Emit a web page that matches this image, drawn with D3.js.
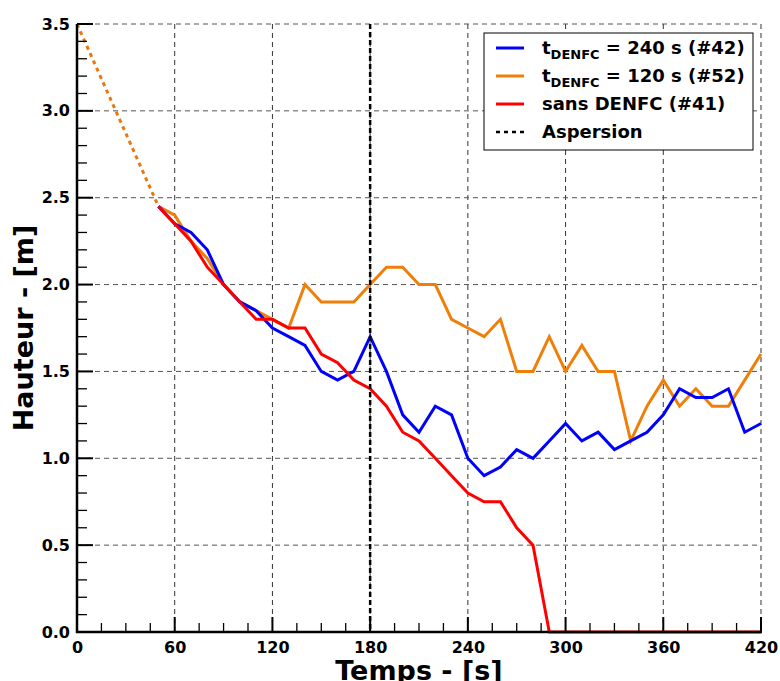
<!DOCTYPE html>
<html><head><meta charset="utf-8">
<script src="https://cdn.jsdelivr.net/npm/d3@7"></script>
<style>body{margin:0;background:#fff}svg{display:block;font-family:"DejaVu Sans",sans-serif}</style>
</head><body><svg id="c" width="780" height="681"></svg>
<script>
const times = [50,60,70,80,90,100,110,120,130,140,150,160,170,180,190,200,210,220,230,240,250,260,270,280,290,300,310,320,330,340,350,360,370,380,390,400,410,420];
const blue = [2.45,2.35,2.3,2.2,2.0,1.9,1.85,1.75,1.7,1.65,1.5,1.45,1.5,1.7,1.5,1.25,1.15,1.3,1.25,1.0,0.9,0.95,1.05,1.0,1.1,1.2,1.1,1.15,1.05,1.1,1.15,1.25,1.4,1.35,1.35,1.4,1.15,1.2];
const orange = [2.45,2.4,2.25,2.15,2.0,1.9,1.85,1.8,1.75,2.0,1.9,1.9,1.9,2.0,2.1,2.1,2.0,2.0,1.8,1.75,1.7,1.8,1.5,1.5,1.7,1.5,1.65,1.5,1.5,1.1,1.3,1.45,1.3,1.4,1.3,1.3,1.45,1.6];
const red = [2.45,2.35,2.25,2.1,2.0,1.9,1.8,1.8,1.75,1.75,1.6,1.55,1.45,1.4,1.3,1.15,1.1,1.0,0.9,0.8,0.75,0.75,0.6,0.5,0.0,0,0,0,0,0,0,0,0,0,0,0,0,0];
const initTimes = [0,50];
const initVals = [3.5,2.45];
const asperTime = 180;
const xTicks = [0,60,120,180,240,300,360,420];
const yTicks = [0,0.5,1.0,1.5,2.0,2.5,3.0,3.5];
const legendLabels = [
  {sub:true, pre:"t", subt:"DENFC", post:" = 240 s (#42)", color:"#0000ff", dash:null},
  {sub:true, pre:"t", subt:"DENFC", post:" = 120 s (#52)", color:"#f07f0a", dash:null},
  {sub:false, text:"sans DENFC (#41)", color:"#ff0000", dash:null},
  {sub:false, text:"Aspersion", color:"#000", dash:"4,4"}
];

const svg = d3.select("#c");
const L=77, R=761, T=24, B=632;
const x = d3.scaleLinear().domain([0,420]).range([L,R]);
const y = d3.scaleLinear().domain([0,3.5]).range([B,T]);

// grid
const g = svg.append("g");
g.selectAll(".vg").data(xTicks.filter(d=>d>0)).enter().append("line")
  .attr("x1",d=>x(d)).attr("x2",d=>x(d)).attr("y1",T).attr("y2",B)
  .attr("stroke","#333").attr("stroke-width",1).attr("stroke-dasharray","5,4");
g.selectAll(".hg").data(yTicks.filter(d=>d>0)).enter().append("line")
  .attr("x1",L).attr("x2",R).attr("y1",d=>y(d)).attr("y2",d=>y(d))
  .attr("stroke","#555").attr("stroke-width",1).attr("stroke-dasharray","5,4");

// series
const line = d3.line().x(d=>x(d[0])).y(d=>y(d[1]));
const zip = (a,b)=>a.map((t,i)=>[t,b[i]]);
svg.append("path").datum(zip(initTimes,initVals)).attr("d",line).attr("fill","none")
  .attr("stroke","#e8790f").attr("stroke-width",3).attr("stroke-dasharray","4,4");
[[orange,"#f07f0a"],[blue,"#0000ff"],[red,"#ff0000"]].forEach(([v,c])=>{
  svg.append("path").datum(zip(times,v)).attr("d",line).attr("fill","none")
    .attr("stroke",c).attr("stroke-width",3);
});

// aspersion line
svg.append("line").attr("x1",x(asperTime)).attr("x2",x(asperTime)).attr("y1",T).attr("y2",B)
  .attr("stroke","#000").attr("stroke-width",2.5).attr("stroke-dasharray","5,3");

// axes
const xAxis = d3.axisBottom(x).tickValues(xTicks).tickSize(0).tickPadding(7);
const xa = svg.append("g").attr("transform",`translate(0,${B})`).call(xAxis);
xa.select(".domain").remove();
xa.selectAll("text").attr("font-size",16).attr("font-weight","bold").attr("fill","#000").attr("dy","0.85em").attr("font-family","DejaVu Sans");
const yAxis = d3.axisLeft(y).tickValues(yTicks).tickSize(0).tickPadding(7).tickFormat(d3.format(".1f"));
const ya = svg.append("g").attr("transform",`translate(${L},0)`).call(yAxis);
ya.select(".domain").remove();
ya.selectAll("text").attr("font-size",16).attr("font-weight","bold").attr("fill","#000").attr("font-family","DejaVu Sans");

// minor / major ticks inward
const xMinor = d3.range(0,421,15);
svg.selectAll(".xt").data(xMinor).enter().append("line")
  .attr("x1",d=>x(d)).attr("x2",d=>x(d)).attr("y1",B).attr("y2",d=>d%60===0?B-15:B-9)
  .attr("stroke","#000").attr("stroke-width",d=>d%60===0?2:1.3);
const yMinor = d3.range(0,36).map(i=>i/10);
svg.selectAll(".yt").data(yMinor).enter().append("line")
  .attr("y1",d=>y(d)).attr("y2",d=>y(d)).attr("x1",L).attr("x2",(d,i)=>i%5===0?L+16:L+10)
  .attr("stroke","#000").attr("stroke-width",(d,i)=>i%5===0?2:1.3);
svg.append("line").attr("x1",L).attr("x2",L).attr("y1",T).attr("y2",B+1).attr("stroke","#000").attr("stroke-width",2.5);
svg.append("line").attr("x1",L-1).attr("x2",R+1).attr("y1",B).attr("y2",B).attr("stroke","#000").attr("stroke-width",2.5);

// titles
svg.append("text").attr("x",(L+R)/2).attr("y",680).attr("text-anchor","middle")
  .attr("font-size",27).attr("font-weight","bold").text("Temps - [s]");
svg.append("text").attr("transform",`translate(33,${(T+B)/2}) rotate(-90)`).attr("text-anchor","middle")
  .attr("font-size",27).attr("font-weight","bold").text("Hauteur - [m]");

// legend
const lg = svg.append("g").attr("transform","translate(484,33)");
lg.append("rect").attr("width",269).attr("height",117).attr("fill","#fff").attr("stroke","#000").attr("stroke-width",1);
legendLabels.forEach((d,i)=>{
  const yy = 15+i*28;
  lg.append("line").attr("x1",12).attr("x2",40).attr("y1",yy).attr("y2",yy)
    .attr("stroke",d.color).attr("stroke-width",d.dash?2.5:3).attr("stroke-dasharray",d.dash);
  const t = lg.append("text").attr("x",58).attr("y",yy+6).attr("font-size",18).attr("font-weight","bold");
  if(d.sub){
    t.append("tspan").text(d.pre);
    t.append("tspan").attr("font-size",13).attr("dy",5).text(d.subt);
    t.append("tspan").attr("dy",-5).text(d.post);
  } else t.text(d.text);
});
</script></body></html>
